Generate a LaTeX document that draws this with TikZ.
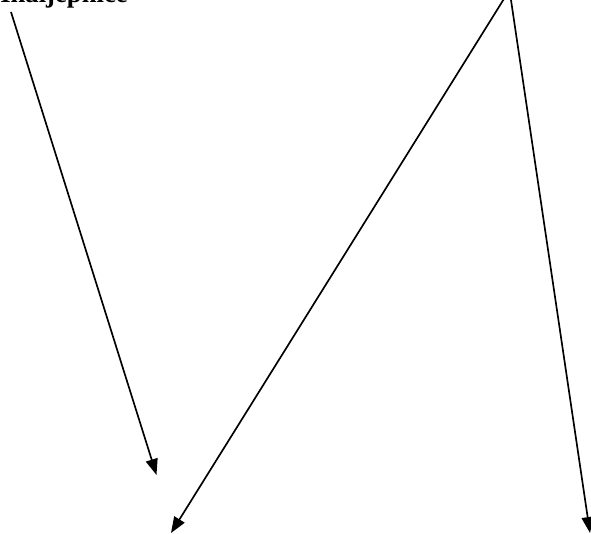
\documentclass[tikz,border=0pt]{standalone}
\usepackage{fontspec}
\setmainfont{Liberation Serif}
\usetikzlibrary{arrows.meta}

\begin{document}
\begin{tikzpicture}[
    x=0.75pt, y=-0.75pt,
    label/.style={
      anchor=base west,
      inner sep=0pt,
      font=\fontsize{20}{22}\selectfont\bfseries
    },
    arrow/.style={-{Triangle[length=12pt,width=9pt]}, line width=1.25pt}
  ]
    \useasboundingbox (0,0) rectangle (591,534);
    \clip (0,0) rectangle (591,534);

    \node[label] (lbl) at (0,2.5) {Inaljepnice};

    \coordinate (lblfoot) at (11,12);
    \coordinate (src) at (509.5,-10);
    \coordinate (tipA) at (156.5,475);
    \coordinate (tipB) at (171,533);
    \coordinate (tipC) at (590,533);

    \draw[arrow] (lblfoot) -- (tipA);
    \draw[arrow] (src) -- (tipB);
    \draw[arrow] (src) -- (tipC);
  \end{tikzpicture}
\end{document}
